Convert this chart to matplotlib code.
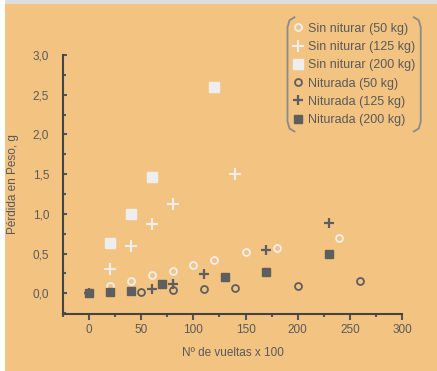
import matplotlib.pyplot as plt
from matplotlib.lines import Line2D
from matplotlib.ticker import MultipleLocator, FuncFormatter

# -------------------------------
# Data
# -------------------------------
sin_50_x = [20, 40, 60, 80, 100, 120, 150, 180, 240]
sin_50_y = [0.09, 0.15, 0.23, 0.28, 0.36, 0.42, 0.52, 0.57, 0.70]

sin_125_x = [20, 40, 60, 80, 140]
sin_125_y = [0.31, 0.60, 0.87, 1.13, 1.50]

sin_200_x = [20, 40, 60, 120]
sin_200_y = [0.63, 1.00, 1.47, 2.60]

nit_50_x = [50, 80, 110, 140, 200, 260]
nit_50_y = [0.02, 0.04, 0.05, 0.07, 0.09, 0.15]

nit_125_x = [0, 60, 80, 110, 170, 230]
nit_125_y = [0.0, 0.05, 0.12, 0.24, 0.54, 0.88]

nit_200_x = [0, 20, 40, 70, 130, 170, 230]
nit_200_y = [0.01, 0.02, 0.03, 0.12, 0.20, 0.27, 0.50]

labels = ["Sin niturar (50 kg)", "Sin niturar (125 kg)", "Sin niturar (200 kg)",
          "Niturada (50 kg)", "Niturada (125 kg)", "Niturada (200 kg)"]

# -------------------------------
# Style
# -------------------------------
bg = "#F3C382"
light = "#EEEEEE"
dark = "#5E5E5E"
txt = "#5A5A5A"
plt.rcParams['font.family'] = ['Liberation Sans', 'DejaVu Sans']

W, H = 437, 371
fig = plt.figure(figsize=(W / 100, H / 100), dpi=100, facecolor=bg)
# white strip on the left and grey band on top, as in the scan
fig.patches.append(plt.Rectangle((0, 0), 5 / W, 1, transform=fig.transFigure,
                                 facecolor="white", edgecolor="none", zorder=0))
fig.patches.append(plt.Rectangle((5 / W, 1 - 4 / H), 1, 4 / H, transform=fig.transFigure,
                                 facecolor="#DDDDDD", edgecolor="none", zorder=0))

ax = fig.add_axes([63 / W, 1 - 314 / H, 339 / W, 259 / H])
ax.set_facecolor(bg)

ax.plot(sin_50_x, sin_50_y, 'o', ms=5, mfc='none', mec=light, mew=1.3, label=labels[0])
ax.plot(sin_125_x, sin_125_y, '+', ms=9, mec=light, mew=1.5, label=labels[1])
ax.plot(sin_200_x, sin_200_y, 's', ms=6.5, mfc=light, mec=light, label=labels[2])
ax.plot(nit_50_x, nit_50_y, 'o', ms=5, mfc='none', mec=dark, mew=1.3, label=labels[3])
ax.plot(nit_125_x, nit_125_y, '+', ms=7, mec=dark, mew=1.6, label=labels[4])
ax.plot(nit_200_x, nit_200_y, 's', ms=6, mfc=dark, mec=dark, label=labels[5])

ax.set_xlim(-25, 300)
ax.set_ylim(-0.26, 3.0)
ax.xaxis.set_major_locator(MultipleLocator(50))
ax.xaxis.set_minor_locator(MultipleLocator(25))
ax.yaxis.set_major_locator(MultipleLocator(0.5))
ax.yaxis.set_minor_locator(MultipleLocator(0.25))
ax.yaxis.set_major_formatter(FuncFormatter(lambda v, p: f"{v:.1f}".replace('.', ',')))

for s in ['top', 'right']:
    ax.spines[s].set_visible(False)
for s in ['left', 'bottom']:
    ax.spines[s].set_color('#444444')
    ax.spines[s].set_linewidth(1.5)

ax.tick_params(axis='x', which='major', direction='out', length=4, width=1.5,
               colors='#555555', labelsize=8.5, labelcolor=txt, pad=3)
ax.tick_params(axis='x', which='minor', direction='out', length=2, width=1.5, colors='#555555')
ax.tick_params(axis='y', which='major', direction='in', length=3, width=1.5,
               colors='#555555', labelsize=8.5, labelcolor=txt, pad=10)
ax.tick_params(axis='y', which='minor', direction='in', length=2, width=1.5, colors='#555555')

ax.set_xlabel("Nº de vueltas x 100", fontsize=8.5, color=txt, labelpad=8)
ax.set_ylabel("Pérdida en Peso, g", fontsize=8.5, color=txt, labelpad=10)

leg = fig.legend(loc='upper right', bbox_to_anchor=(429 / W, 1 - 9 / H),
                 fontsize=9, labelcolor=txt, frameon=False,
                 handlelength=0.8, handletextpad=0.4, labelspacing=0.5,
                 borderpad=0.6)

# bracket-shaped legend border, drawn in pixel space around the legend box
fig.canvas.draw()
bb = leg.get_window_extent()
x0, y0, x1, y1 = bb.x0 + 2, bb.y0 + 2, bb.x1 - 2, bb.y1 - 2
for side in (1, -1):
    xe = x0 if side == 1 else x1
    xs = [xe + side * 7, xe + side * 2, xe, xe, xe + side * 2, xe + side * 7]
    ys = [y1, y1 - 3, y1 - 10, y0 + 10, y0 + 3, y0]
    fig.add_artist(Line2D([v / W for v in xs], [v / H for v in ys],
                          transform=fig.transFigure, color='#8A8A8A', lw=1.3))

fig.savefig("out.png", dpi=100, facecolor=bg)
